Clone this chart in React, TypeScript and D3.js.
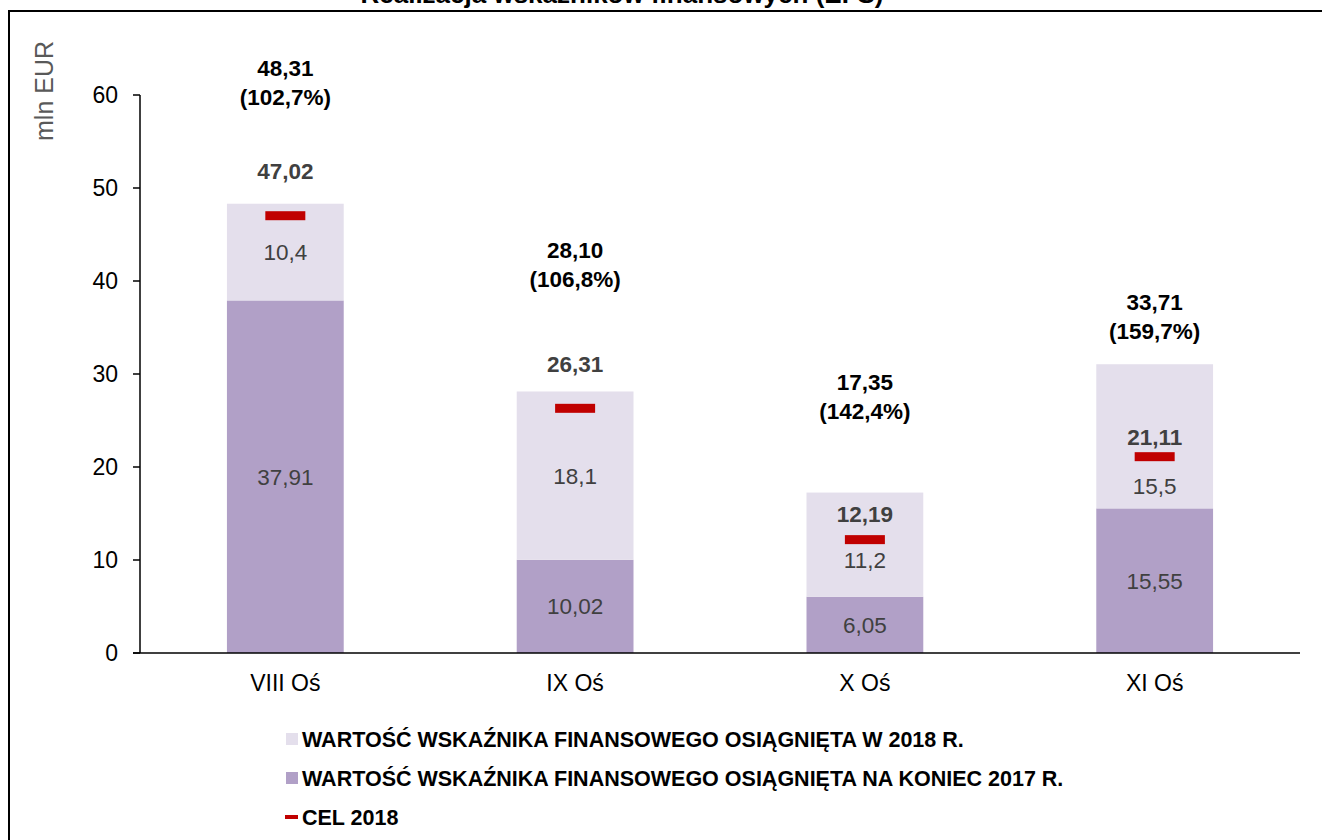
import React from "react";
import * as d3 from "d3";

const categories = ["VIII Oś", "IX Oś", "X Oś", "XI Oś"];
const base2017 = [37.91, 10.02, 6.05, 15.55];
const added2018 = [10.4, 18.1, 11.2, 15.5];
const target2018 = [47.02, 26.31, 12.19, 21.11];
const totalLabels = ["48,31", "28,10", "17,35", "33,71"];
const pctLabels = ["(102,7%)", "(106,8%)", "(142,4%)", "(159,7%)"];
const baseLabels = ["37,91", "10,02", "6,05", "15,55"];
const addedLabels = ["10,4", "18,1", "11,2", "15,5"];
const targetLabels = ["47,02", "26,31", "12,19", "21,11"];
// label anchors (in axis units), as placed in the original
const totalLabelAt = [62.9, 43.3, 29.1, 37.7];
const targetLabelAt = [51.8, 31.1, 14.9, 23.2];
const addedLabelAt: (number | null)[] = [null, null, 10.0, 17.96];
const yTicks = [0, 10, 20, 30, 40, 50, 60];
const legendItems = [
  "WARTOŚĆ WSKAŹNIKA FINANSOWEGO OSIĄGNIĘTA W 2018 R.",
  "WARTOŚĆ WSKAŹNIKA FINANSOWEGO OSIĄGNIĘTA NA KONIEC 2017 R.",
  "CEL 2018",
];

const LIGHT = "#E4DFEC";
const DARK = "#B1A0C7";
const RED = "#C00000";
const FONT = "'Liberation Sans', Arial, sans-serif";

export default function App() {
  const W = 1322, H = 840;
  const x = d3.scaleBand<string>().domain(categories).range([140, 1300]).paddingInner(0.597).paddingOuter(0.3);
  const y = d3.scaleLinear().domain([0, 60]).range([653, 95]);
  const bw = x.bandwidth();

  return (
    <svg width={W} height={H} style={{ position: "absolute", left: 0, top: 0, background: "#fff" }} fontFamily={FONT}>
      {/* title (clipped in the original) */}
      <text x={622} y={3} textAnchor="middle" fontSize={26} fontWeight="bold" fill="#000">
        Realizacja wskaźników finansowych (EFS)
      </text>
      {/* frame */}
      <rect x={9} y={11} width={1340} height={900} fill="none" stroke="#000" strokeWidth={2} />

      {/* y axis label */}
      <text transform={`translate(53,91) rotate(-90)`} textAnchor="middle" fontSize={25} fill="#595959">
        mln EUR
      </text>

      {/* bars */}
      {categories.map((c, i) => {
        const cx = (x(c) as number) + bw / 2;
        const b = base2017[i];
        const t = b + added2018[i];
        return (
          <g key={c}>
            <rect x={x(c)} y={y(b)} width={bw} height={y(0) - y(b)} fill={DARK} />
            <rect x={x(c)} y={y(t)} width={bw} height={y(b) - y(t)} fill={LIGHT} />
            <text x={cx} y={y(b / 2)} dy="0.35em" textAnchor="middle" fontSize={22.5} fill="#404040">
              {baseLabels[i]}
            </text>
            <text
              x={cx}
              y={y(addedLabelAt[i] ?? b + added2018[i] / 2)}
              dy="0.35em"
              textAnchor="middle"
              fontSize={22.5}
              fill="#404040"
            >
              {addedLabels[i]}
            </text>
            <rect x={cx - 20} y={y(target2018[i]) - 4.5} width={40} height={9} fill={RED} />
            <text x={cx} y={y(targetLabelAt[i])} dy="0.35em" textAnchor="middle" fontSize={22.5} fontWeight="bold" fill="#404040">
              {targetLabels[i]}
            </text>
            <text x={cx} y={y(totalLabelAt[i])} dy="0.35em" textAnchor="middle" fontSize={22.5} fontWeight="bold" fill="#000">
              {totalLabels[i]}
            </text>
            <text x={cx} y={y(totalLabelAt[i]) + 29} dy="0.35em" textAnchor="middle" fontSize={22.5} fontWeight="bold" fill="#000">
              {pctLabels[i]}
            </text>
          </g>
        );
      })}

      {/* axes */}
      <line x1={140} x2={140} y1={y(60)} y2={y(0)} stroke="#000" strokeWidth={1.5} />
      <line x1={133} x2={1300} y1={y(0)} y2={y(0)} stroke="#000" strokeWidth={1.5} />
      {yTicks.map((t) => (
        <g key={t}>
          <line x1={133} x2={140} y1={y(t)} y2={y(t)} stroke="#000" strokeWidth={1.5} />
          <text x={118} y={y(t)} dy="0.35em" textAnchor="end" fontSize={23} fill="#000">
            {t}
          </text>
        </g>
      ))}
      {categories.map((c) => (
        <text key={c} x={(x(c) as number) + bw / 2} y={683} dy="0.35em" textAnchor="middle" fontSize={23} fill="#000">
          {c}
        </text>
      ))}

      {/* legend */}
      {legendItems.map((s, i) => {
        const ly = 739 + i * 39;
        return (
          <g key={s}>
            {i < 2 ? (
              <rect x={286} y={ly - 6} width={12} height={12} fill={i === 0 ? LIGHT : DARK} />
            ) : (
              <rect x={285} y={ly - 2} width={13} height={4} fill={RED} />
            )}
            <text x={302} y={ly} dy="0.35em" fontSize={21.5} fontWeight="bold" fill="#000">
              {s}
            </text>
          </g>
        );
      })}
    </svg>
  );
}
